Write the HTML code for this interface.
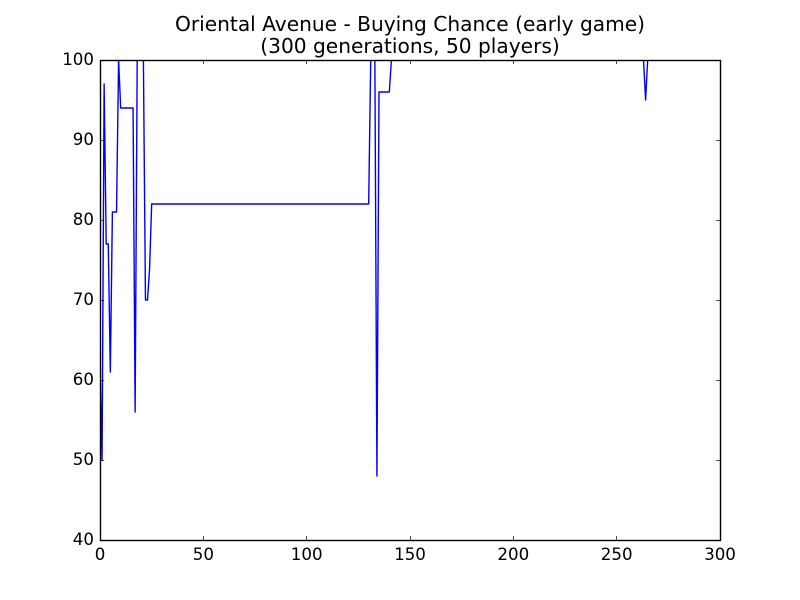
<!DOCTYPE html>
<html>
<head>
<meta charset="utf-8">
<title>Oriental Avenue - Buying Chance (early game)</title>
<style>
html,body{margin:0;padding:0;background:#fff;}
svg{display:block;}
text{font-family:"DejaVu Sans",sans-serif;fill:#000;}
</style>
</head>
<body>
<svg id="chart" xmlns="http://www.w3.org/2000/svg" width="800" height="600" viewBox="0 0 800 600">
<rect x="0" y="0" width="800" height="600" fill="#fff"></rect>
<text x="410" y="31" font-size="20.17" text-anchor="middle">Oriental Avenue - Buying Chance (early game)</text>
<text x="410" y="53" font-size="20.17" text-anchor="middle">(300 generations, 50 players)</text>
<g id="plot"></g>
</svg>
<script>
const xTicks = [0, 50, 100, 150, 200, 250, 300];
const yTicks = [40, 50, 60, 70, 80, 90, 100];
const generations = [0, 1, 2, 3, 4, 5, 6, 8, 9, 10, 16, 17, 18, 21, 22, 23, 24, 25, 130, 131, 133, 134, 135, 140, 141, 263, 264, 265, 299];
const buyingChance = [62, 50, 97, 77, 77, 61, 81, 81, 100, 94, 94, 56, 100, 100, 70, 70, 74, 82, 82, 100, 100, 48, 96, 96, 100, 100, 95, 100, 100];

const NS = 'http://www.w3.org/2000/svg';
const plot = document.getElementById('plot');
const L = 100, R = 720, T = 60, B = 540;
const xScale = v => L + (v - 0) / 300 * (R - L);
const yScale = v => B - (v - 40) / 60 * (B - T);

function make(tag, attrs, parent) {
  const el = document.createElementNS(NS, tag);
  for (const k in attrs) el.setAttribute(k, attrs[k]);
  parent.appendChild(el);
  return el;
}

const defs = make('defs', {}, plot);
const clip = make('clipPath', {id: 'plot-clip'}, defs);
make('rect', {x: L, y: T, width: R - L, height: B - T}, clip);

const pts = generations.map((g, i) => xScale(g).toFixed(2) + ',' + yScale(buyingChance[i]).toFixed(2)).join(' ');
const line = make('polyline', {points: pts, fill: 'none', stroke: '#0000ff', 'stroke-width': 1.4, 'stroke-linejoin': 'round', 'clip-path': 'url(#plot-clip)'}, plot);



xTicks.forEach(function (t) {
  const x = Math.floor(xScale(t)) + 0.5;
  const t1 = make('line', {x1: x, x2: x, y1: B, y2: B - 4, stroke: '#000', 'stroke-width': 0.7}, plot);
  
  
  const t2 = make('line', {x1: x, x2: x, y1: T, y2: T + 4, stroke: '#000', 'stroke-width': 0.7}, plot);
  
  
  const lab = make('text', {x: xScale(t), y: 560, 'font-size': 16.67, 'text-anchor': 'middle'}, plot);
  
  
  lab.textContent = t;
});

yTicks.forEach(function (t) {
  const y = Math.round(yScale(t)) + 0.5;
  const t1 = make('line', {x1: L, x2: L + 4, y1: y, y2: y, stroke: '#000', 'stroke-width': 0.7}, plot);
  
  
  const t2 = make('line', {x1: R, x2: R - 4, y1: y, y2: y, stroke: '#000', 'stroke-width': 0.7}, plot);
  
  
  const lab = make('text', {x: 94, y: Math.round(yScale(t)) + 5, 'font-size': 16.67, 'text-anchor': 'end'}, plot);
  
  
  lab.textContent = t;
});

const frame = make('rect', {x: L + 0.5, y: T + 0.5, width: R - L, height: B - T, fill: 'none', stroke: '#000', 'stroke-width': 1.4}, plot);


</script>
</body>
</html>
